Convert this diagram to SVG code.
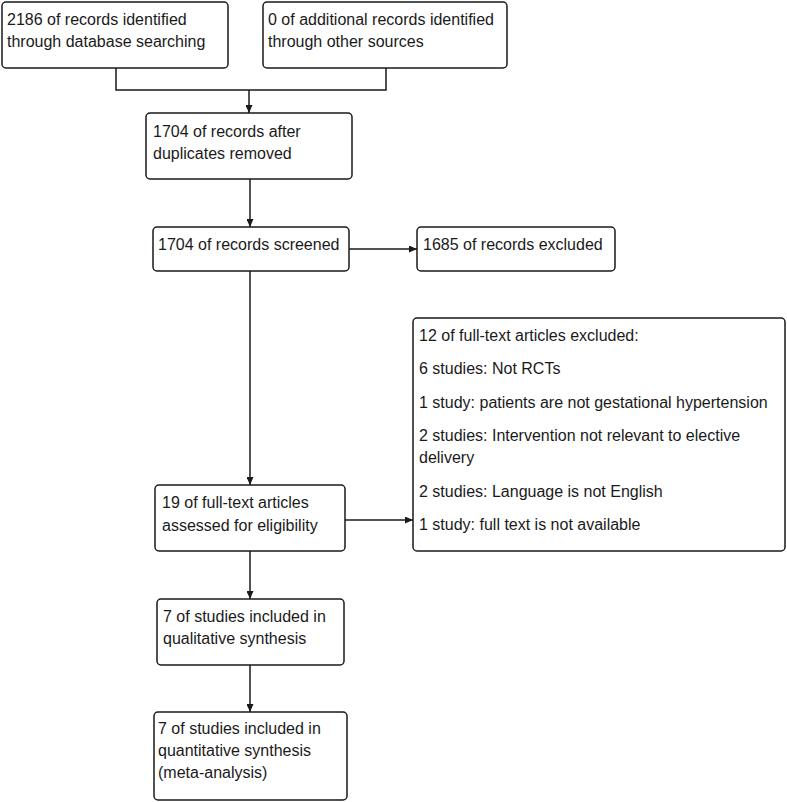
<svg xmlns="http://www.w3.org/2000/svg" width="787" height="802" viewBox="0 0 787 802">
<defs>
<style>
.box{fill:#fff;stroke:#1a1a1a;stroke-width:1.5}
.t{font-family:"Liberation Sans",Arial,sans-serif;font-size:16px;fill:#1a1a1a}
.c{fill:none;stroke:#1a1a1a;stroke-width:1.5}
</style>
<marker id="ah" markerUnits="userSpaceOnUse" markerWidth="8" markerHeight="7" refX="8" refY="3.5" orient="auto">
<path d="M0,0 L8,3.5 L0,7 Z" fill="#1a1a1a"/>
</marker>
</defs>
<rect width="787" height="802" fill="#fff"/>
<g id="connectors">
<polyline class="c" points="116,68 116,90 386,90 386,68"/>
<line class="c" x1="249" y1="90" x2="249" y2="113" marker-end="url(#ah)"/>
<line class="c" x1="250" y1="179" x2="250" y2="227" marker-end="url(#ah)"/>
<line class="c" x1="349" y1="249" x2="417" y2="249" marker-end="url(#ah)"/>
<line class="c" x1="250" y1="271" x2="250" y2="485" marker-end="url(#ah)"/>
<line class="c" x1="345" y1="520" x2="413" y2="520" marker-end="url(#ah)"/>
<line class="c" x1="250" y1="551" x2="250" y2="599" marker-end="url(#ah)"/>
<line class="c" x1="250" y1="665" x2="250" y2="712" marker-end="url(#ah)"/>
</g>
<g id="n1">
<rect class="box" x="2" y="2" width="226" height="66" rx="4"/>
<text class="t" x="7" y="25">2186 of records identified</text>
<text class="t" x="7" y="47">through database searching</text>
</g>
<g id="n2">
<rect class="box" x="263" y="2" width="244" height="66" rx="4"/>
<text class="t" x="268" y="25">0 of additional records identified</text>
<text class="t" x="268" y="47">through other sources</text>
</g>
<g id="n3">
<rect class="box" x="146" y="113" width="206" height="66" rx="4"/>
<text class="t" x="153" y="137">1704 of records after</text>
<text class="t" x="153" y="159">duplicates removed</text>
</g>
<g id="n4">
<rect class="box" x="153" y="227" width="196" height="44" rx="4"/>
<text class="t" x="158" y="250">1704 of records screened</text>
</g>
<g id="n5">
<rect class="box" x="417" y="227" width="198" height="44" rx="4"/>
<text class="t" x="423" y="250">1685 of records excluded</text>
</g>
<g id="n6">
<rect class="box" x="413" y="318" width="372" height="233" rx="4"/>
<text class="t" x="419" y="341">12 of full-text articles excluded:</text>
<text class="t" x="419" y="374">6 studies: Not RCTs</text>
<text class="t" x="419" y="408">1 study: patients are not gestational hypertension</text>
<text class="t" x="419" y="441">2 studies: Intervention not relevant to elective</text>
<text class="t" x="419" y="463">delivery</text>
<text class="t" x="419" y="497">2 studies: Language is not English</text>
<text class="t" x="419" y="530">1 study: full text is not available</text>
</g>
<g id="n7">
<rect class="box" x="155" y="485" width="190" height="66" rx="4"/>
<text class="t" x="162" y="508">19 of full-text articles</text>
<text class="t" x="162" y="531">assessed for eligibility</text>
</g>
<g id="n8">
<rect class="box" x="157" y="599" width="187" height="66" rx="4"/>
<text class="t" x="163" y="622">7 of studies included in</text>
<text class="t" x="163" y="644">qualitative synthesis</text>
</g>
<g id="n9">
<rect class="box" x="154" y="712" width="193" height="88" rx="4"/>
<text class="t" x="158" y="734">7 of studies included in</text>
<text class="t" x="158" y="756">quantitative synthesis</text>
<text class="t" x="158" y="778">(meta-analysis)</text>
</g>
</svg>
